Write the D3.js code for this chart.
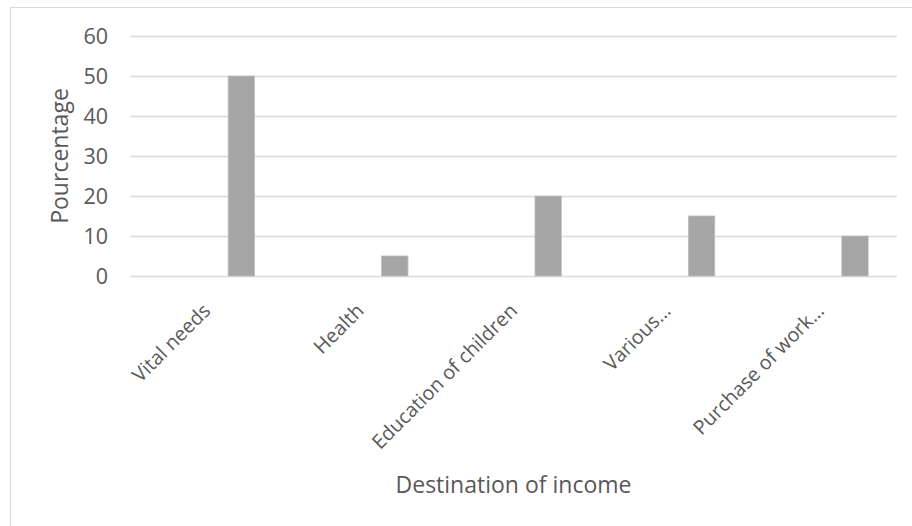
<!DOCTYPE html>
<html><head><meta charset="utf-8">
<script src="https://cdn.jsdelivr.net/npm/d3@7"></script>
<style>body{margin:0;background:#fff}svg{display:block}</style>
</head><body>
<svg id="c" width="912" height="526"></svg>
<script>
const categories = ["Vital needs","Health","Education of children","Various…","Purchase of work…"];
const values = [50, 5, 20, 15, 10];
const yTicks = [0,10,20,30,40,50,60];
const yLabel = "Pourcentage";
const xLabel = "Destination of income";

const svg = d3.select("#c");
const font = "'Open Sans', sans-serif";
const textColor = "#595959";
const m = {left:130, right:897, top:36, bottom:276};

svg.append("rect").attr("x",10.5).attr("y",7.5).attr("width",940).attr("height",560)
  .attr("fill","#fff").attr("stroke","#d9d9d9");

const x = d3.scaleBand().domain(categories).range([m.left, m.right]);
const y = d3.scaleLinear().domain([0,60]).range([m.bottom, m.top]);

// gridlines
svg.append("g").selectAll("line").data(yTicks).join("line")
  .attr("x1",m.left).attr("x2",m.right)
  .attr("y1",d=>Math.round(y(d))+0.5).attr("y2",d=>Math.round(y(d))+0.5)
  .attr("stroke","#d9d9d9").attr("stroke-width",1.3);

// y tick labels
const yAxis = d3.axisLeft(y).tickValues(yTicks).tickSize(0).tickPadding(0);
const ga = svg.append("g").attr("transform",`translate(${m.left-22},0)`).call(yAxis);
ga.select(".domain").remove();
ga.selectAll("text").attr("font-family",font).attr("font-size",21.5).attr("fill",textColor).attr("dy","0.36em");

// bars
const bw = x.bandwidth();
svg.append("g").selectAll("rect").data(values).join("rect")
  .attr("x",(d,i)=>x(categories[i]) + bw*0.64)
  .attr("width",bw*0.172)
  .attr("y",d=>y(d))
  .attr("height",d=>y(0)-y(d))
  .attr("fill","#a5a5a5").attr("stroke","#bfbfbf").attr("stroke-width",0.8);

// x labels
svg.append("g").selectAll("text").data(categories).join("text")
  .attr("transform",d=>`translate(${x(d)+bw/2+5},${312}) rotate(-45)`)
  .attr("text-anchor","end")
  .attr("font-family",font).attr("font-size",19.8).attr("fill",textColor)
  .text(d=>d);

// axis titles
svg.append("text").attr("x",(m.left+m.right)/2).attr("y",493)
  .attr("text-anchor","middle").attr("font-family",font).attr("font-size",23)
  .attr("fill",textColor).text(xLabel);
svg.append("text").attr("transform",`translate(68,${(m.top+m.bottom)/2}) rotate(-90)`)
  .attr("text-anchor","middle").attr("font-family",font).attr("font-size",23)
  .attr("fill",textColor).text(yLabel);
</script>
</body></html>
